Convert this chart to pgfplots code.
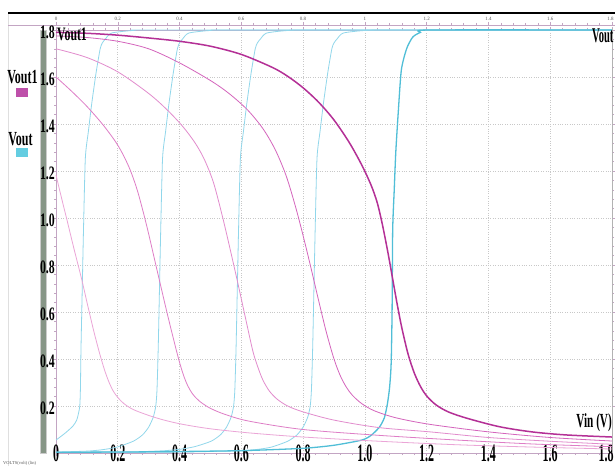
\documentclass[border=0pt]{standalone}
\usepackage{pgfplots}
\pgfplotsset{compat=1.18}
\usepackage{fontspec}
\setmainfont{Liberation Serif}
\usepackage{graphicx}
\definecolor{mA}{RGB}{235,165,215}
\definecolor{mB}{RGB}{222,125,198}
\definecolor{mC}{RGB}{226,140,205}
\definecolor{mD}{RGB}{212,100,188}
\definecolor{mE}{RGB}{180,48,150}
\definecolor{cL}{RGB}{145,215,235}
\definecolor{cD}{RGB}{80,190,215}
\definecolor{gridc}{RGB}{200,200,200}
\definecolor{axc}{RGB}{195,165,195}
\definecolor{barg}{RGB}{135,150,135}
\definecolor{legm}{RGB}{190,80,170}
\definecolor{legc}{RGB}{100,205,225}
\newcommand\bx[1]{\scalebox{0.48}[1]{\fontsize{25}{25}\selectfont\bfseries #1}}
\newcommand\by[1]{\scalebox{0.62}[1]{\fontsize{19}{19}\selectfont\bfseries #1}}
\begin{document}
\begin{tikzpicture}[x=1pt,y=1pt]
\useasboundingbox (0,0) rectangle (615,466);
\fill[white] (0,0) rectangle (615,466);
\draw[gray!25] (8,0) -- (8,453);
\draw[black, line width=1.4pt] (8,453) -- (615,453);
\draw[axc, line width=0.8pt] (8,441) -- (615,441);
\fill[barg] (40.5,13) rectangle (45.5,436);
\draw[gray!40] (40,13) rectangle (46,436);
% top secondary axis
\begin{axis}[at={(56pt,13pt)}, anchor=south west, scale only axis,
  width=556pt, height=428pt, xmin=0, xmax=1.8, ymin=0, ymax=1,
  axis x line*=top, axis y line=none, ytick=\empty,
  xtick={0,0.2,...,1.8},
  xticklabels={0,0.2,0.4,0.6,0.8,1,1.2,1.4,1.6,\hspace*{-3pt}1.8},
  minor x tick num=4, tick align=outside,
  major tick length=3pt, minor tick length=2pt,
  axis line style={draw=none},
  tick style={draw=axc, line width=0.5pt},
  xticklabel style={font=\fontsize{5}{5}\selectfont, text=gray!70!black, inner sep=1pt}]
\end{axis}
\begin{axis}[at={(56pt,13pt)}, anchor=south west, scale only axis,
  width=556pt, height=423pt, xmin=0, xmax=1.8, ymin=0, ymax=1.8, clip=false,
  xtick={0,0.2,...,1.8},
  xticklabels={\bx{0},\bx{0.2},\bx{0.4},\bx{0.6},\bx{0.8},\bx{1.0},\bx{1.2},\bx{1.4},\bx{1.6},\hspace*{-12pt}\bx{1.8}},
  ytick={0.2,0.4,...,1.8},
  yticklabels={\by{0.2},\by{0.4},\by{0.6},\by{0.8},\by{1.0},\by{1.2},\by{1.4},\by{1.6},\by{1.8}},
  minor x tick num=4, minor y tick num=4, tick align=outside,
  major tick length=3pt, minor tick length=2pt,
  grid=major, major grid style={dotted, draw=gridc, line width=0.7pt},
  axis line style={draw=axc, line width=0.7pt},
  tick style={draw=axc, line width=0.5pt},
  xticklabel style={anchor=north, inner sep=0pt, yshift=11pt},
  yticklabel style={anchor=east, inner sep=0pt, xshift=2pt, yshift=-2.5pt}]
% Vout (cyan)
\addplot[cL, line width=0.8pt, smooth, tension=0.4] coordinates {
(0,0.055)(0.03,0.085)(0.055,0.115)(0.067,0.14)(0.073,0.17)(0.077,0.2)(0.079,0.27)(0.081,0.45)(0.085,0.7)(0.089,0.95)(0.095,1.255)(0.105,1.37)(0.116,1.49)(0.13,1.62)(0.143,1.72)(0.15,1.745)(0.16,1.762)(0.18,1.787)(0.25,1.798)(0.35,1.8)(1.8,1.8)};
\addplot[cL, line width=0.8pt, smooth, tension=0.4] coordinates {
(0,0.004)(0.1,0.008)(0.15,0.014)(0.197,0.025)(0.25,0.05)(0.28,0.077)(0.3,0.11)(0.315,0.153)(0.323,0.2)(0.327,0.27)(0.331,0.45)(0.335,0.7)(0.339,0.95)(0.345,1.255)(0.355,1.37)(0.366,1.49)(0.38,1.62)(0.393,1.72)(0.40,1.745)(0.41,1.762)(0.43,1.787)(0.5,1.798)(0.6,1.8)(1.8,1.8)};
\addplot[cL, line width=0.8pt, smooth, tension=0.4] coordinates {
(0,0.003)(0.25,0.005)(0.352,0.01)(0.402,0.016)(0.449,0.027)(0.502,0.05)(0.532,0.077)(0.552,0.11)(0.567,0.153)(0.575,0.2)(0.579,0.27)(0.583,0.45)(0.587,0.7)(0.591,0.95)(0.597,1.255)(0.607,1.37)(0.618,1.49)(0.632,1.62)(0.645,1.72)(0.652,1.745)(0.662,1.762)(0.682,1.787)(0.752,1.798)(0.85,1.8)(1.8,1.8)};
\addplot[cL, line width=0.8pt, smooth, tension=0.4] coordinates {
(0,0.003)(0.4,0.004)(0.6,0.01)(0.65,0.015)(0.697,0.025)(0.75,0.05)(0.78,0.077)(0.8,0.11)(0.815,0.153)(0.823,0.2)(0.827,0.27)(0.831,0.45)(0.835,0.7)(0.839,0.95)(0.845,1.255)(0.855,1.37)(0.866,1.49)(0.88,1.62)(0.893,1.72)(0.9,1.745)(0.91,1.762)(0.93,1.787)(1.0,1.798)(1.1,1.8)(1.8,1.8)};
\addplot[cD, line width=1.3pt, smooth, tension=0.4] coordinates {
(0,0.003)(0.3,0.005)(0.6,0.01)(0.8,0.02)(0.9,0.033)(0.99,0.055)(1.02,0.075)(1.047,0.11)(1.063,0.15)(1.073,0.21)(1.08,0.28)(1.085,0.38)(1.088,0.6)(1.09,0.95)(1.095,1.12)(1.10,1.28)(1.108,1.45)(1.118,1.63)(1.135,1.72)(1.155,1.77)(1.18,1.79)(1.21,1.8)(1.8,1.8)};
% Vout1 (magenta)
\addplot[mA, line width=0.8pt, smooth] coordinates {
(0,1.183)(0.017,1.09)(0.034,1.0)(0.058,0.87)(0.083,0.74)(0.104,0.62)(0.123,0.515)(0.142,0.42)(0.158,0.35)(0.172,0.3)(0.186,0.262)(0.201,0.235)(0.22,0.21)(0.25,0.185)(0.3,0.16)(0.35,0.14)(0.41,0.122)(0.5,0.103)(0.63,0.085)(0.8,0.068)(1.047,0.05)(1.3,0.035)(1.55,0.025)(1.8,0.017)};
\addplot[mB, line width=0.8pt, smooth] coordinates {
(0,1.6)(0.05,1.54)(0.1,1.475)(0.15,1.4)(0.19,1.33)(0.215,1.275)(0.24,1.205)(0.265,1.11)(0.294,0.965)(0.325,0.79)(0.358,0.605)(0.38,0.487)(0.398,0.395)(0.413,0.33)(0.427,0.285)(0.443,0.25)(0.465,0.22)(0.5,0.19)(0.55,0.163)(0.627,0.135)(0.8,0.1)(1.047,0.075)(1.3,0.055)(1.55,0.038)(1.8,0.027)};
\addplot[mC, line width=0.8pt, smooth] coordinates {
(0,1.72)(0.1,1.683)(0.2,1.622)(0.3,1.53)(0.36,1.46)(0.41,1.39)(0.45,1.32)(0.48,1.25)(0.51,1.15)(0.54,1.0)(0.565,0.86)(0.59,0.715)(0.615,0.565)(0.638,0.43)(0.655,0.36)(0.67,0.31)(0.69,0.265)(0.715,0.23)(0.75,0.2)(0.8,0.175)(0.9,0.14)(1.047,0.108)(1.21,0.09)(1.4,0.066)(1.6,0.05)(1.8,0.037)};
\addplot[mD, line width=0.8pt, smooth] coordinates {
(0,1.775)(0.1,1.768)(0.2,1.752)(0.3,1.72)(0.4,1.66)(0.5,1.585)(0.56,1.53)(0.62,1.46)(0.67,1.38)(0.71,1.29)(0.745,1.18)(0.775,1.05)(0.8,0.925)(0.825,0.79)(0.85,0.65)(0.875,0.515)(0.9,0.4)(0.92,0.33)(0.94,0.28)(0.96,0.245)(0.99,0.21)(1.03,0.18)(1.1,0.15)(1.21,0.122)(1.4,0.09)(1.6,0.066)(1.8,0.051)};
\addplot[mE, line width=1.5pt, smooth] coordinates {
(0,1.79)(0.1,1.786)(0.2,1.778)(0.3,1.766)(0.4,1.752)(0.5,1.731)(0.6,1.696)(0.7,1.641)(0.75,1.603)(0.8,1.554)(0.85,1.493)(0.9,1.417)(0.95,1.32)(0.99,1.225)(1.02,1.14)(1.04,1.065)(1.057,0.97)(1.075,0.85)(1.09,0.74)(1.105,0.63)(1.12,0.53)(1.14,0.42)(1.16,0.34)(1.18,0.283)(1.2,0.243)(1.23,0.205)(1.27,0.175)(1.33,0.148)(1.435,0.112)(1.54,0.09)(1.65,0.077)(1.8,0.068)};
\end{axis}
\draw[gray!60, line width=0.8pt] (612,13) -- (612,438);
\node[anchor=base west, inner sep=0pt] at (57,425) {\by{Vout1}};
\node[anchor=base west, inner sep=0pt] at (592,423) {\scalebox{0.5}[1]{\fontsize{21}{21}\selectfont\bfseries Vout}};
\node[anchor=base east, inner sep=0pt] at (612,39) {\scalebox{0.56}[1]{\fontsize{20}{20}\selectfont\bfseries Vin (V)}};
\node[anchor=base, inner sep=0pt] at (22.5,382) {\scalebox{0.6}[1]{\fontsize{20}{20}\selectfont\bfseries Vout1}};
\fill[legm] (16,369) rectangle (28,378);
\node[anchor=base, inner sep=0pt] at (20.5,320) {\scalebox{0.6}[1]{\fontsize{20}{20}\selectfont\bfseries Vout}};
\fill[legc] (16,309) rectangle (28,318);
\node[anchor=base west, inner sep=0pt, text=gray!70!black] at (3,2) {\fontsize{4.5}{4.5}\selectfont VOLTS(volt) (lin)};
\end{tikzpicture}
\end{document}
